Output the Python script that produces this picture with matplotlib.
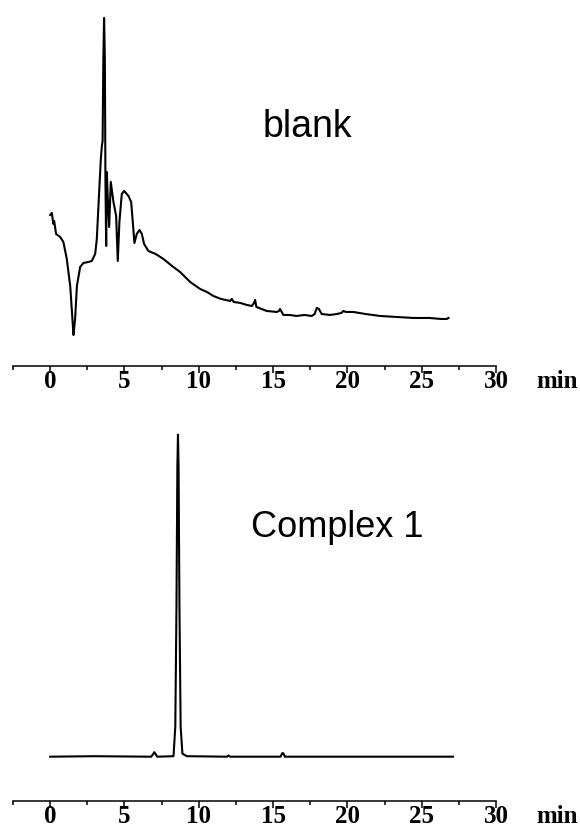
import numpy as np
import matplotlib
matplotlib.use("Agg")
import matplotlib.pyplot as plt
from matplotlib.ticker import MultipleLocator

# blank chromatogram: retention time (min) and detector signal (a.u.)
blank_t = [0.00, 0.11, 0.22, 0.27, 0.40, 0.67, 0.89, 1.12, 1.35, 1.53, 1.57, 1.68,
           1.80, 2.02, 2.24, 2.58, 2.80, 3.03, 3.14, 3.25, 3.41, 3.48, 3.53, 3.58,
           3.63, 3.68, 3.72, 3.77, 3.81, 3.88, 3.97, 4.08, 4.26, 4.44, 4.55, 4.66,
           4.82, 4.98, 5.27, 5.45, 5.56, 5.67, 5.83, 6.01, 6.17, 6.32, 6.61, 7.10,
           7.62, 8.20, 8.74, 9.42, 10.09, 10.55, 10.98, 11.50, 12.11, 12.22, 12.35,
           12.80, 13.23, 13.57, 13.72, 13.79, 13.88, 14.05, 14.57, 15.25, 15.40,
           15.47, 15.58, 15.69, 16.10, 16.59, 17.10, 17.60, 17.80, 17.94, 18.08,
           18.27, 18.83, 19.30, 19.60, 19.73, 19.90, 20.40, 21.20, 22.20, 23.30,
           24.44, 25.50, 26.30, 26.68, 26.80]
blank_v = [151, 153, 142, 145, 132, 129, 124, 107, 80, 40, 31, 47,
           80, 99, 103, 104, 105, 112, 127, 160, 207, 220, 225, 307,
           348, 307, 187, 120, 194, 167, 139, 184, 164, 150, 105, 144,
           172, 175, 170, 164, 144, 123, 132, 136, 132, 122, 115, 112,
           107, 100, 94, 84, 77, 74, 70, 67, 65, 67, 64,
           63, 61, 60, 63, 66, 59, 58, 55, 54, 55,
           57, 54, 51, 51, 50, 51, 50, 52, 58, 57,
           52, 51, 52, 53, 55, 54, 54, 52, 50, 49,
           48, 48, 47, 47, 48]

# complex 1 chromatogram
cplx_t = [0.00, 3.00, 6.80, 6.95, 7.00, 7.08, 7.20, 8.30, 8.42, 8.50, 8.56,
          8.60, 8.64, 8.70, 8.78, 8.90, 9.20, 11.90, 12.00, 12.10, 15.50,
          15.62, 15.68, 15.80, 20.00, 27.10]
cplx_v = [0.0, 0.5, 0.0, 3.0, 4.5, 3.0, 0.0, 0.5, 30, 150, 290,
          322, 290, 150, 30, 3, 0.5, 0.0, 1.2, 0.0, 0.0,
          3.5, 3.5, 0.0, 0.0, 0.0]

tick_font = dict(family="Liberation Serif", weight="bold", size=18)
tick_len, tick_pad = 5, -2.5

fig = plt.figure(figsize=(5.8, 8.28), dpi=100)
ax1 = fig.add_axes([0.0224, 0.5568, 0.8328, 0.4312])
ax2 = fig.add_axes([0.0224, 0.0314, 0.8328, 0.4493])

for ax, t, v, ylim, name, pos, fs in [
        (ax1, blank_t, blank_v, (0, 357), "blank", (0.609, 0.644), 27),
        (ax2, cplx_t, cplx_v, (-44.3, 327.7), "Complex 1", (0.671, 0.712), 26)]:
    ax.plot(t, v, color="black", lw=1.5, solid_joinstyle="round")
    ax.set_xlim(-2.5, 30)
    ax.set_ylim(*ylim)
    for s in ["top", "left", "right"]:
        ax.spines[s].set_visible(False)
    ax.spines["bottom"].set_linewidth(1.1)
    ax.set_yticks([])
    ax.xaxis.set_major_locator(MultipleLocator(5))
    ax.xaxis.set_minor_locator(MultipleLocator(2.5))
    ax.tick_params(axis="x", which="major", direction="out", length=tick_len,
                   width=1.1, pad=tick_pad)
    ax.tick_params(axis="x", which="minor", direction="out", length=3, width=1.1)
    ax.set_xticks(np.arange(0, 31, 5))
    ax.set_xticklabels([str(x) for x in range(0, 31, 5)], fontdict=tick_font)
    trans, va, ha = ax.get_xaxis_text1_transform(tick_len + tick_pad)
    ax.text(34.1, 0, "min", transform=trans, ha="center", va=va,
            fontdict=tick_font, clip_on=False)
    ax.text(pos[0], pos[1], name, transform=ax.transAxes, ha="center", va="baseline",
            family="Liberation Sans", size=fs)

fig.savefig("out.png", dpi=100)
